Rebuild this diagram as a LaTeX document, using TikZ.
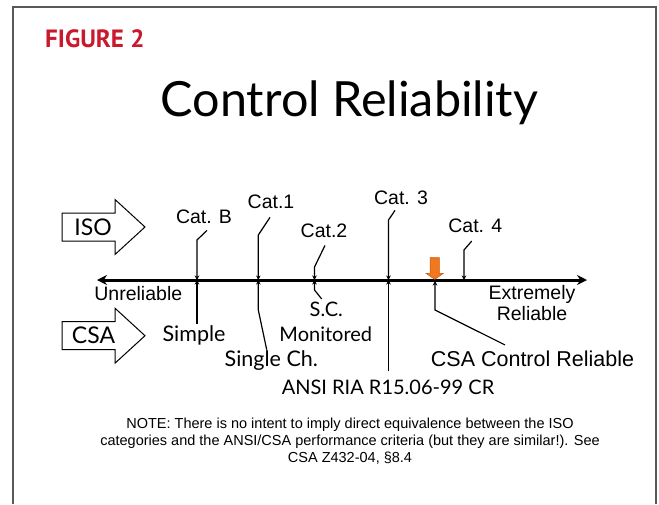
\documentclass[tikz,border=0pt]{standalone}
\usepackage{fontspec}
\setmainfont{Liberation Sans}
\newfontfamily\gillfont{Lato}
\newfontfamily\figfont{PT Sans}
\usetikzlibrary{arrows.meta}
\definecolor{figred}{RGB}{200,25,45}
\definecolor{pinfill}{RGB}{240,120,30}
\definecolor{pinedge}{RGB}{200,90,20}

\begin{document}
\begin{tikzpicture}[x=1pt, y=-1pt,
  lbl/.style={font=\fontsize{19.5}{20.7}\selectfont, inner sep=0pt},
  gill/.style={font=\gillfont\fontsize{20}{21}\selectfont, inner sep=0pt},
  big/.style={font=\gillfont\fontsize{23}{23}\selectfont, inner sep=0pt},
  axis/.style={{Stealth[length=10pt,width=10pt]}-{Stealth[length=10pt,width=10pt]}, line width=3pt},
  tick/.style={-{Stealth[length=4.5pt,width=4.5pt]}, line width=1.2pt},
  blockarr/.style={draw, line width=1pt, line join=miter},
  csapin/.style={draw=pinedge, fill=pinfill, line width=0.6pt},
  frame/.style={draw=black!65, line width=2pt}
]
\useasboundingbox (0,0) rectangle (659,504);

% Frame (open at the bottom)
\draw[frame] (13,504) -- (13,7) -- (656,7) -- (656,504);

% Headings
\node[font=\figfont\bfseries\fontsize{25}{25}\selectfont, text=figred, inner sep=0pt, anchor=base west]
  (fig) at (45,47.7) {FIGURE 2};
\node[font=\gillfont\fontsize{48.5}{48.5}\selectfont, inner sep=0pt, anchor=base]
  (title) at (349.5,116) {Control Reliability};

% Block arrows
\coordinate (isoTip) at (145,227);
\coordinate (csaTip) at (145,335.7);
\draw[blockarr] (isoTip) -- ++(-30,-27.5) -- ++(0,13.5) -- ++(-53,0) -- ++(0,28)
  -- ++(53,0) -- ++(0,13.5) -- cycle;
\draw[blockarr] (csaTip) -- ++(-30,-27.5) -- ++(0,13.5) -- ++(-53,0) -- ++(0,28)
  -- ++(53,0) -- ++(0,13.5) -- cycle;
\node[big] (isoLbl) at (93,227) {ISO};
\node[big] (csaLbl) at (93.5,335.7) {CSA};

% Reliability axis
\coordinate (axL) at (97,280);
\coordinate (axR) at (587,280);
\draw[axis] (axL) -- (axR);
\coordinate (tB) at (197,280);
\coordinate (t1) at (258.3,280);
\coordinate (t2) at (314.5,280);
\coordinate (t3) at (388.5,280);
\coordinate (t4) at (464,280);
\coordinate (tC) at (435,281);

\node[lbl, anchor=base] (unrel) at (138.3,300) {Unreliable};
\node[lbl, align=center] (extrel) at (532,303.3) {Extremely\\Reliable};

% ISO categories (above)
\node[lbl, anchor=base] (catB) at (204,223) {Cat. B};
\node[lbl, anchor=base] (catOne) at (271,208) {Cat.1};
\node[lbl, anchor=base] (catTwo) at (324,237) {Cat.2};
\node[lbl, anchor=base] (catThree) at (401,204) {Cat. 3};
\node[lbl, anchor=base] (catFour) at (475.3,232.7) {Cat. 4};

\draw[tick] ([shift={(3,7)}]catB.south) -- ([yshift=40pt]tB) -- (tB);
\draw[tick] ([shift={(-1,9)}]catOne.south) -- ([yshift=45pt]t1) -- (t1);
\draw[tick] ([shift={(1,8)}]catTwo.south) -- ([yshift=13pt]t2) -- (t2);
\draw[tick] ([shift={(-6,6)}]catThree.south) -- ([yshift=60pt]t3) -- (t3);
\draw[tick] ([shift={(-3.6,8)}]catFour.south) -- ([yshift=30pt]t4) -- (t4);

% CSA / ANSI levels (below)
\node[gill, font=\gillfont\fontsize{21.5}{21.5}\selectfont, anchor=base] (simple) at (194,341.7) {Simple};
\node[gill, font=\gillfont\fontsize{21.5}{21.5}\selectfont, anchor=base] (singleCh) at (271.3,366.7) {Single Ch.};
\node[gill, anchor=base] (sc) at (326.3,316.7) {S.C.};
\node[gill, anchor=base] (monit) at (325.8,341.7) {Monitored};
\node[gill, anchor=base] (ansi) at (388,394) {ANSI RIA R15.06-99 CR};
\node[lbl, font=\fontsize{21.5}{21.5}\selectfont, anchor=base] (ctrl) at (532.5,366.7) {CSA Control Reliable};

\draw[tick] ([yshift=2pt]tB |- simple.north) -- (tB);
\draw[tick] ([shift={(-4.6,-1)}]singleCh.north) -- ([yshift=-30pt]t1) -- (t1);
\draw[tick] ([shift={(-4.6,-3)}]sc.north) -- ([yshift=-10pt]t2) -- (t2);
\draw[tick] ([yshift=8pt]t3 |- ansi.north) -- (t3);
\draw[tick] ([shift={(-27.5,-6)}]ctrl.north) -- ([yshift=-29pt]tC) -- (tC);

% Marker
\coordinate (pinTip) at (434.7,279.3);
\draw[csapin] (pinTip) -- ++(-8.65,-6) -- ++(4,0) -- ++(0,-15.6) -- ++(9.3,0)
  -- ++(0,15.6) -- ++(4,0) -- cycle;

% Note
\node[font=\fontsize{14.5}{17}\selectfont, align=center, inner sep=0pt] (note) at (350,441)
  {NOTE: There is no intent to imply direct equivalence between the ISO\\
   categories and the ANSI/CSA performance criteria (but they are similar!). See\\
   CSA Z432-04, \S8.4};

\end{tikzpicture}
\end{document}
